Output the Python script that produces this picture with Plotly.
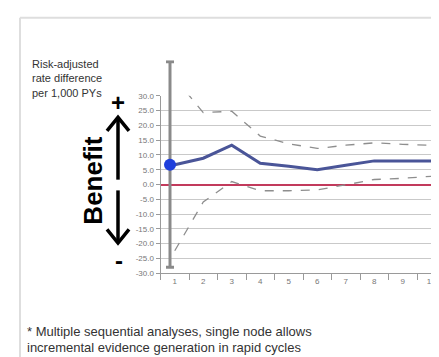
import plotly.graph_objects as go

# ---------------- data ----------------
analyses = ["1", "2", "3", "4", "5", "6", "7", "8", "9", "10"]
rate_diff = [6.7, 8.9, 13.3, 7.2, 6.2, 5.0, 6.5, 8.0, 8.0, 8.0]
upper_ci = [36.0, 24.3, 24.8, 16.4, 13.8, 12.2, 13.3, 14.1, 13.6, 13.3]
lower_ci = [-22.4, -5.9, 1.0, -2.1, -2.1, -1.8, -0.1, 1.7, 2.1, 2.8]
first_point = [6.7]
first_upper = [41.5]
first_lower = [-28.0]
y_ticks = [30, 25, 20, 15, 10, 5, 0, -5, -10, -15, -20, -25, -30]
y_tick_labels = ["30.0", "25.0", "20.0", "15.0", "10.0", "5.0", "0.0",
                 "-5.0", "-10.0", "-15.0", "-20.0", "-25.0", "-30.0"]

W, H = 439, 357
def fx(p): return p / W
def fy(p): return 1 - p / H

FONT = "Liberation Sans, Arial, sans-serif"
cat_range = [-0.5, len(analyses) - 0.5]

fig = go.Figure()

fig.add_trace(go.Scatter(x=analyses, y=upper_ci, mode="lines",
                         line=dict(color="#8e8e8e", width=1.3, dash="dash"),
                         xaxis="x", yaxis="y", showlegend=False, hoverinfo="skip"))
fig.add_trace(go.Scatter(x=analyses, y=lower_ci, mode="lines",
                         line=dict(color="#8e8e8e", width=1.3, dash="dash"),
                         xaxis="x", yaxis="y", showlegend=False, hoverinfo="skip"))
fig.add_trace(go.Scatter(x=analyses, y=rate_diff, mode="lines",
                         line=dict(color="#4a5598", width=3),
                         xaxis="x", yaxis="y", showlegend=False))

# first analysis with its wide interval (extends above the plot)
fig.add_trace(go.Scatter(
    x=analyses[:1], y=first_point, mode="markers",
    marker=dict(color="#1f3fdc", size=12),
    error_y=dict(type="data", symmetric=False,
                 array=[u - p for u, p in zip(first_upper, first_point)],
                 arrayminus=[p - l for l, p in zip(first_lower, first_point)],
                 color="#8a8a8a", thickness=3, width=4),
    xaxis="x2", yaxis="y2", showlegend=False, cliponaxis=False))

px_per_unit = (268 - 86) / 60.0
y2_top = 268 - (42 + 30) * px_per_unit

fig.update_layout(
    width=W, height=H,
    margin=dict(l=0, r=0, t=0, b=0),
    paper_bgcolor="white", plot_bgcolor="rgba(0,0,0,0)",
    font=dict(family=FONT, color="#333"),
    xaxis=dict(domain=[fx(152.5), fx(437.5)], type="category",
               categoryorder="array", categoryarray=analyses, range=cat_range,
               showgrid=False, showline=True, linecolor="#9a9a9a", linewidth=1,
               ticks="outside", tickson="boundaries", ticklen=6, tickcolor="#9a9a9a",
               tickfont=dict(size=8, color="#777"), anchor="y", zeroline=False),
    yaxis=dict(domain=[fy(268), fy(86)], range=[-30, 30],
               tickvals=y_ticks, ticktext=y_tick_labels,
               tickfont=dict(size=8, color="#777"),
               showgrid=True, gridcolor="#c9c9c9", gridwidth=1,
               showline=True, linecolor="#9a9a9a", linewidth=1,
               ticks="outside", ticklen=4, tickcolor="#9a9a9a",
               zeroline=True, zerolinecolor="#c23a5c", zerolinewidth=2,
               anchor="x"),
    xaxis2=dict(domain=[fx(152.5 - 4.75), fx(437.5 - 4.75)], type="category",
                categoryorder="array", categoryarray=analyses,
                range=cat_range, visible=False, anchor="y2"),
    yaxis2=dict(domain=[fy(268), fy(y2_top)], range=[-30, 42],
                visible=False, anchor="x2"),
)

shapes = []
# panel frame
shapes.append(dict(type="line", xref="paper", yref="paper",
                   x0=fx(12), y0=fy(6), x1=fx(12), y1=fy(357),
                   line=dict(color="#dedede", width=2)))
shapes.append(dict(type="line", xref="paper", yref="paper",
                   x0=fx(12), y0=fy(6), x1=fx(439), y1=fy(6),
                   line=dict(color="#dedede", width=2)))
# up arrow
shapes.append(dict(type="line", xref="paper", yref="paper",
                   x0=fx(110), y0=fy(172), x1=fx(110), y1=fy(109),
                   line=dict(color="black", width=3.5)))
shapes.append(dict(type="path", xref="paper", yref="paper",
                   path=f"M {fx(99)},{fy(122)} L {fx(110)},{fy(108)} L {fx(121)},{fy(122)}",
                   line=dict(color="black", width=3.5)))
# down arrow
shapes.append(dict(type="line", xref="paper", yref="paper",
                   x0=fx(110), y0=fy(183), x1=fx(110), y1=fy(236),
                   line=dict(color="black", width=3.5)))
shapes.append(dict(type="path", xref="paper", yref="paper",
                   path=f"M {fx(99)},{fy(223)} L {fx(110)},{fy(237)} L {fx(121)},{fy(223)}",
                   line=dict(color="black", width=3.5)))
fig.update_layout(shapes=shapes)

ann = []
ann.append(dict(xref="paper", yref="paper", x=fx(22), y=fy(45),
                xanchor="left", yanchor="top", align="left", showarrow=False,
                text="Risk-adjusted<br>rate difference<br>per 1,000 PYs",
                font=dict(size=11, color="#333")))
ann.append(dict(xref="paper", yref="paper", x=fx(85), y=fy(173),
                xanchor="center", yanchor="middle", showarrow=False, textangle=-90,
                text="<b>Benefit</b>", font=dict(size=26, color="black")))
ann.append(dict(xref="paper", yref="paper", x=fx(110), y=fy(93),
                xanchor="center", yanchor="middle", showarrow=False,
                text="<b>+</b>", font=dict(size=24, color="black")))
ann.append(dict(xref="paper", yref="paper", x=fx(111), y=fy(255),
                xanchor="center", yanchor="middle", showarrow=False,
                text="<b>-</b>", font=dict(size=24, color="black")))
ann.append(dict(xref="paper", yref="paper", x=fx(17), y=fy(328),
                xanchor="left", yanchor="middle", showarrow=False,
                text="* Multiple sequential analyses, single node allows",
                font=dict(size=13, color="#333")))
ann.append(dict(xref="paper", yref="paper", x=fx(17), y=fy(344),
                xanchor="left", yanchor="middle", showarrow=False,
                text="incremental evidence generation in rapid cycles",
                font=dict(size=13, color="#333")))
fig.update_layout(annotations=ann)

fig.write_html("out.html")
